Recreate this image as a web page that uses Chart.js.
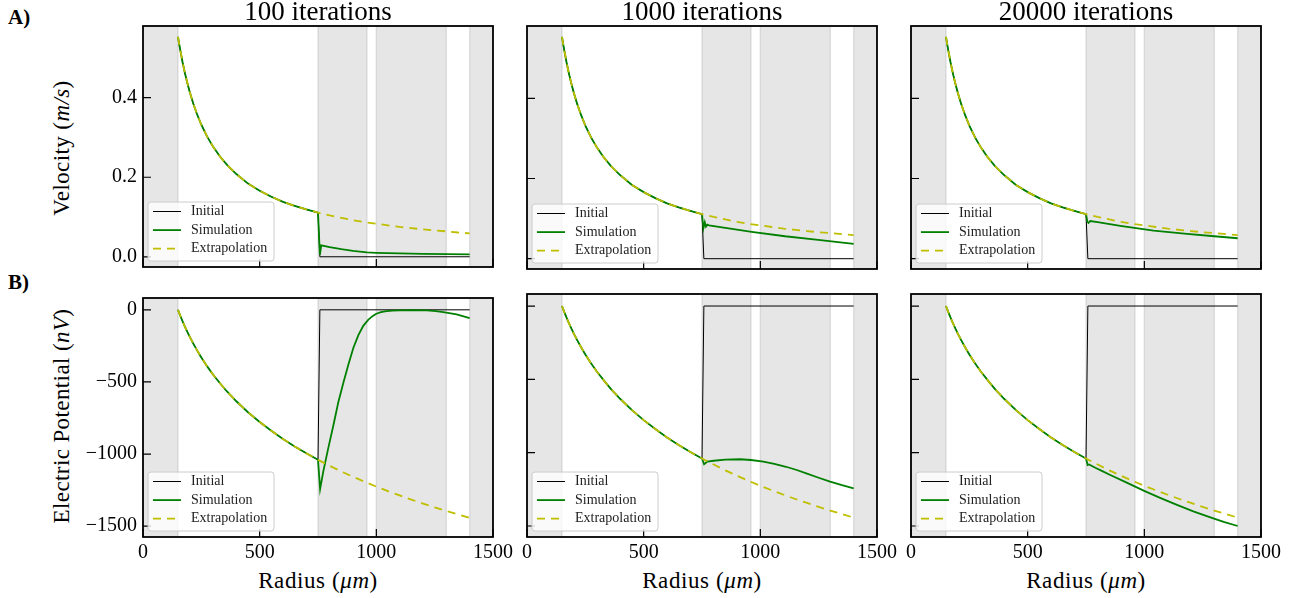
<!DOCTYPE html>
<html>
<head>
<meta charset="utf-8">
<script src="https://cdn.jsdelivr.net/npm/chart.js@4.4.1/dist/chart.umd.min.js"></script>
<style>
  body { margin: 0; background: #fff; width: 1301px; height: 598px; position: relative; overflow: hidden; font-family: 'Liberation Serif', serif; }
  canvas { position: absolute; }
  .lbl { position: absolute; color: #000; white-space: nowrap; line-height: 1; }
  .row { font-weight: bold; font-size: 21px; left: 8px; }
  .ytitle { font-size: 23px; letter-spacing: 0.4px; left: 61px; transform: translate(-50%, -50%) rotate(-90deg); }
  .xtitle { font-size: 23px; letter-spacing: 0.6px; top: 580px; transform: translate(-50%, -50%); }
</style>
</head>
<body>
<div class="lbl row" style="top:7px">A)</div>
<div class="lbl row" style="top:272px">B)</div>
<div class="lbl ytitle" style="top:148px">Velocity (<i>m/s</i>)</div>
<div class="lbl ytitle" style="top:416px">Electric Potential (<i>nV</i>)</div>
<div class="lbl xtitle" style="left:318px">Radius (<i>μm</i>)</div>
<div class="lbl xtitle" style="left:702px">Radius (<i>μm</i>)</div>
<div class="lbl xtitle" style="left:1086px">Radius (<i>μm</i>)</div>

<canvas id="v0" width="533" height="285" style="left:0px;top:0px"></canvas>
<canvas id="v1" width="533" height="285" style="left:384px;top:0px"></canvas>
<canvas id="v2" width="533" height="285" style="left:768px;top:0px"></canvas>
<canvas id="p0" width="533" height="318" style="left:0px;top:280px"></canvas>
<canvas id="p1" width="533" height="318" style="left:384px;top:280px"></canvas>
<canvas id="p2" width="533" height="318" style="left:768px;top:280px"></canvas>

<script>
const columnTitles = ['100 iterations', '1000 iterations', '20000 iterations'];
const radiusTicks = [0, 500, 1000, 1500];
const velocityTicks = [0, 0.2, 0.4];
const potentialTicks = [-1500, -1000, -500, 0];

// shaded regions along the radius
const bands = [[0, 150], [750, 960], [1000, 1300], [1400, 1500]];

// part shared by all curves (150 - 750 um)
const radiusInner = [150, 155, 160, 170, 180, 190, 200, 215, 230, 250, 275, 300, 330, 360, 400, 450, 500, 550, 600, 650, 700, 750];
const velocityInner = [0.553, 0.535, 0.519, 0.488, 0.461, 0.437, 0.415, 0.386, 0.361, 0.332, 0.302, 0.277, 0.252, 0.231, 0.208, 0.184, 0.166, 0.151, 0.138, 0.128, 0.119, 0.111];
const potentialInner = [0, -21, -42, -81, -118, -153, -186, -233, -276, -330, -392, -448, -509, -566, -634, -710, -778, -839, -896, -947, -995, -1040];

// initial condition after the step
const radiusStep = [758, 1400];
const velocityStep = [0, 0];
const potentialStep = [0, 0];

// extrapolation beyond 750 um
const radiusOuter = [800, 850, 900, 950, 1000, 1050, 1100, 1150, 1200, 1250, 1300, 1350, 1400];
const velocityOuter = [0.104, 0.098, 0.092, 0.087, 0.083, 0.079, 0.075, 0.072, 0.069, 0.066, 0.064, 0.061, 0.059];
const potentialOuter = [-1081, -1121, -1157, -1192, -1226, -1257, -1287, -1316, -1343, -1370, -1395, -1419, -1443];

// simulation beyond 750 um
const sim100RadiusV = [758, 764, 780, 800, 850, 900, 960, 1000, 1100, 1200, 1300, 1400];
const sim100Velocity = [0.005, 0.029, 0.027, 0.024, 0.019, 0.015, 0.011, 0.010, 0.0084, 0.0072, 0.0065, 0.006];
const sim1000RadiusV = [756, 762, 767, 773, 780, 850, 963, 1106, 1248, 1400];
const sim1000Velocity = [0.076, 0.091, 0.080, 0.085, 0.083, 0.077, 0.067, 0.056, 0.047, 0.037];
const sim20000RadiusV = [756, 761, 768, 800, 897, 1040, 1183, 1300, 1400];
const sim20000Velocity = [0.092, 0.089, 0.094, 0.091, 0.082, 0.070, 0.062, 0.056, 0.051];

const sim100RadiusP = [759, 773, 794, 816, 837, 859, 880, 901, 923, 944, 966, 985, 1000, 1020, 1044, 1070, 1100, 1160, 1216, 1255, 1287, 1344, 1400];
const sim100Potential = [-1243, -1118, -959, -800, -641, -504, -380, -266, -175, -111, -68, -42, -27, -16, -9, -6, -4, -3, -4, -9, -16, -32, -57];
const sim1000RadiusP = [759, 773, 800, 850, 913, 960, 1013, 1060, 1110, 1156, 1200, 1250, 1299, 1350, 1400];
const sim1000Potential = [-1079, -1061, -1055, -1048, -1045, -1050, -1061, -1076, -1096, -1118, -1143, -1171, -1198, -1222, -1243];
const sim20000RadiusP = [757, 763, 790, 820, 854, 920, 997, 1070, 1140, 1210, 1283, 1340, 1400];
const sim20000Potential = [-1084, -1080, -1103, -1126, -1152, -1201, -1259, -1310, -1356, -1400, -1441, -1472, -1500];

const FONT = "'Liberation Serif', serif";

function pts(xs, ys) {
  return xs.map((x, i) => ({ x: x, y: ys[i] }));
}

const bandPlugin = {
  id: 'bands',
  beforeDatasetsDraw(chart) {
    const { ctx, chartArea: a, scales: { x } } = chart;
    ctx.save();
    ctx.beginPath();
    ctx.rect(a.left, a.top, a.right - a.left, a.bottom - a.top);
    ctx.clip();
    bands.forEach(([b0, b1]) => {
      const x0 = x.getPixelForValue(b0), x1 = x.getPixelForValue(b1);
      ctx.fillStyle = 'rgba(128,128,128,0.2)';
      ctx.fillRect(x0, a.top, x1 - x0, a.bottom - a.top);
      ctx.strokeStyle = 'rgba(128,128,128,0.2)';
      ctx.lineWidth = 1.5;
      ctx.strokeRect(x0, a.top - 2, x1 - x0, a.bottom - a.top + 4);
    });
    ctx.restore();
  }
};

const framePlugin = {
  id: 'frame',
  afterDatasetsDraw(chart) {
    const { ctx, chartArea: a, scales: { x, y } } = chart;
    ctx.save();
    ctx.strokeStyle = '#000';
    ctx.lineWidth = 1.2;
    ctx.beginPath();
    x.ticks.forEach(t => {
      const px = x.getPixelForValue(t.value);
      ctx.moveTo(px, a.bottom);
      ctx.lineTo(px, a.bottom - 8);
    });
    y.ticks.forEach(t => {
      const py = y.getPixelForValue(t.value);
      ctx.moveTo(a.left, py);
      ctx.lineTo(a.left + 8, py);
    });
    ctx.stroke();
    ctx.lineWidth = 1.8;
    ctx.strokeRect(a.left, a.top, a.right - a.left, a.bottom - a.top);
    ctx.restore();
  }
};

const legendPlugin = {
  id: 'legendInside',
  afterDraw(chart) {
    const { ctx, chartArea: a } = chart;
    const w = 126, h = 59, bx = a.left + 5, by = a.bottom - 6 - h;
    ctx.save();
    ctx.beginPath();
    if (ctx.roundRect) ctx.roundRect(bx, by, w, h, 3); else ctx.rect(bx, by, w, h);
    ctx.fillStyle = 'rgba(255,255,255,0.8)';
    ctx.fill();
    ctx.strokeStyle = '#cccccc';
    ctx.lineWidth = 1;
    ctx.stroke();
    ctx.font = '14px ' + FONT;
    ctx.textBaseline = 'middle';
    chart.data.datasets.forEach((ds, i) => {
      const ly = by + 9.5 + i * 18.6;
      ctx.beginPath();
      ctx.setLineDash(ds.borderDash || []);
      ctx.strokeStyle = ds.borderColor;
      ctx.lineWidth = ds.borderWidth;
      ctx.moveTo(bx + 5, ly);
      ctx.lineTo(bx + 33, ly);
      ctx.stroke();
      ctx.setLineDash([]);
      ctx.fillStyle = '#222';
      ctx.fillText(ds.label, bx + 43, ly);
    });
    ctx.restore();
  }
};

function makePanel(id, row, col, initial, simulation, extrapolation) {
  const isVel = row === 0;
  new Chart(document.getElementById(id), {
    type: 'line',
    data: {
      datasets: [
        { label: 'Initial', data: initial, borderColor: '#000', borderWidth: 1, order: 3 },
        { label: 'Simulation', data: simulation, borderColor: '#008000', borderWidth: 1.8, order: 2 },
        { label: 'Extrapolation', data: extrapolation, borderColor: '#bfbf00', borderWidth: 1.8, borderDash: [8, 6], order: 1 }
      ]
    },
    options: {
      responsive: false,
      animation: false,
      events: [],
      elements: { point: { radius: 0 }, line: { tension: 0 } },
      layout: { padding: { left: 0, right: 40, top: isVel ? 0 : 14, bottom: isVel ? 16 : 21 } },
      plugins: {
        legend: { display: false },
        tooltip: { enabled: false },
        title: {
          display: isVel,
          text: columnTitles[col],
          fullSize: false,
          color: '#000',
          font: { family: FONT, size: 27, weight: 'normal', lineHeight: 26 / 27 },
          padding: { top: 0, bottom: 0 }
        }
      },
      scales: {
        x: {
          type: 'linear',
          min: 0,
          max: 1500,
          grid: { display: false, drawTicks: false },
          border: { display: false },
          afterBuildTicks: (s) => { s.ticks = radiusTicks.map(v => ({ value: v })); },
          afterFit: (s) => { s.height = isVel ? 0 : 40; },
          ticks: {
            display: !isVel,
            padding: 4,
            color: '#000',
            font: { family: FONT, size: 20 },
            maxRotation: 0,
            callback: (v) => String(v)
          }
        },
        y: {
          type: 'linear',
          min: isVel ? -0.0257 : -1575,
          max: isVel ? 0.5803 : 82,
          grid: { display: false, drawTicks: false },
          border: { display: false },
          afterBuildTicks: (s) => { s.ticks = (isVel ? velocityTicks : potentialTicks).map(v => ({ value: v })); },
          afterFit: (s) => { s.width = 143; },
          ticks: {
            display: col === 0,
            padding: 6,
            color: '#000',
            font: { family: FONT, size: 20 },
            callback: (v) => isVel ? v.toFixed(1) : String(v).replace('-', '\u2212')
          }
        }
      }
    },
    plugins: [bandPlugin, framePlugin, legendPlugin]
  });
}

const velInitial = pts(radiusInner.concat(radiusStep), velocityInner.concat(velocityStep));
const velExtra = pts(radiusInner.concat(radiusOuter), velocityInner.concat(velocityOuter));
const potInitial = pts(radiusInner.concat(radiusStep), potentialInner.concat(potentialStep));
const potExtra = pts(radiusInner.concat(radiusOuter), potentialInner.concat(potentialOuter));

makePanel('v0', 0, 0, velInitial, pts(radiusInner.concat(sim100RadiusV), velocityInner.concat(sim100Velocity)), velExtra);
makePanel('v1', 0, 1, velInitial, pts(radiusInner.concat(sim1000RadiusV), velocityInner.concat(sim1000Velocity)), velExtra);
makePanel('v2', 0, 2, velInitial, pts(radiusInner.concat(sim20000RadiusV), velocityInner.concat(sim20000Velocity)), velExtra);
makePanel('p0', 1, 0, potInitial, pts(radiusInner.concat(sim100RadiusP), potentialInner.concat(sim100Potential)), potExtra);
makePanel('p1', 1, 1, potInitial, pts(radiusInner.concat(sim1000RadiusP), potentialInner.concat(sim1000Potential)), potExtra);
makePanel('p2', 1, 2, potInitial, pts(radiusInner.concat(sim20000RadiusP), potentialInner.concat(sim20000Potential)), potExtra);
</script>
</body>
</html>
